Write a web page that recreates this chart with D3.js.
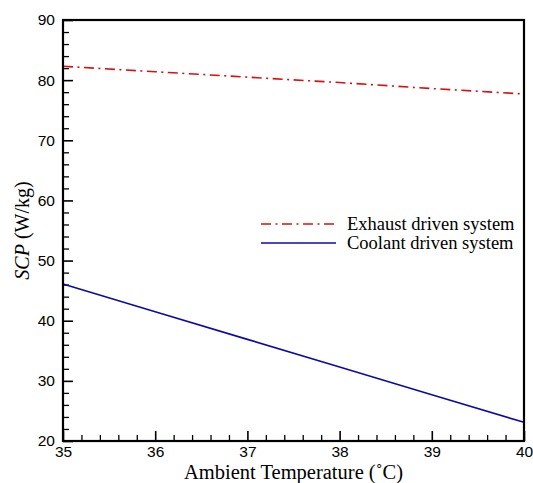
<!DOCTYPE html>
<html><head><meta charset="utf-8">
<script src="https://cdn.jsdelivr.net/npm/d3@7"></script>
<style>body{margin:0;background:#fff}</style>
</head><body>
<script>
const temps = [35, 36, 37, 38, 39, 40];
const exhaustSCP = [82.3, 81.4, 80.5, 79.6, 78.6, 77.7];
const coolantSCP = [46.1, 41.5, 36.9, 32.3, 27.7, 23.1];
const xTicks = [35, 36, 37, 38, 39, 40];
const yTicks = [20, 30, 40, 50, 60, 70, 80, 90];
const seriesNames = ["Exhaust driven system", "Coolant driven system"];

const W = 533, H = 483;
const L = 63, R = 524, T = 20, B = 441;
const svg = d3.select("body").append("svg").attr("width", W).attr("height", H);
const x = d3.scaleLinear().domain([35, 40]).range([L, R]);
const y = d3.scaleLinear().domain([20, 90]).range([B, T]);

const tickFont = "'Liberation Sans', Arial, sans-serif";
const serif = "'Liberation Serif', 'Times New Roman', serif";

// minor ticks
const yMinor = d3.range(20, 90.01, 2).filter(v => v % 10 !== 0);
const xMinor = d3.range(35, 40.001, 0.2).filter(v => Math.abs(v - Math.round(v)) > 1e-6);
svg.append("g").attr("transform", `translate(${L},0)`)
  .call(d3.axisLeft(y).tickValues(yMinor).tickSize(-6).tickFormat(""))
  .call(g => g.select(".domain").remove())
  .selectAll("line").attr("stroke", "#000").attr("stroke-width", 1.3);
svg.append("g").attr("transform", `translate(0,${B})`)
  .call(d3.axisBottom(x).tickValues(xMinor).tickSize(-6).tickFormat(""))
  .call(g => g.select(".domain").remove())
  .selectAll("line").attr("stroke", "#000").attr("stroke-width", 1.3);

// major ticks
const gy = svg.append("g").attr("transform", `translate(${L},0)`)
  .call(d3.axisLeft(y).tickValues(yTicks).tickSize(-10).tickPadding(8).tickFormat(d3.format("d")));
gy.select(".domain").remove();
gy.selectAll("line").attr("stroke", "#000").attr("stroke-width", 1.6);
gy.selectAll("text").attr("font-family", tickFont).attr("font-size", 15.5).attr("fill", "#000");

const gx = svg.append("g").attr("transform", `translate(0,${B})`)
  .call(d3.axisBottom(x).tickValues(xTicks).tickSize(-10).tickPadding(5).tickFormat(d3.format("d")));
gx.select(".domain").remove();
gx.selectAll("line").attr("stroke", "#000").attr("stroke-width", 1.6);
gx.selectAll("text").attr("font-family", tickFont).attr("font-size", 15.5).attr("fill", "#000");

// lines
const line = d3.line().x((d, i) => x(temps[i])).y(d => y(d));
svg.append("path").datum(coolantSCP).attr("d", line)
  .attr("fill", "none").attr("stroke", "#0a0aa8").attr("stroke-width", 1.6);
svg.append("path").datum(exhaustSCP).attr("d", line)
  .attr("fill", "none").attr("stroke", "#d81010").attr("stroke-width", 1.6)
  .attr("stroke-dasharray", "10,4.5,2,4.5");

// frame
svg.append("rect").attr("x", L).attr("y", T).attr("width", R - L).attr("height", B - T)
  .attr("fill", "none").attr("stroke", "#000").attr("stroke-width", 2.2);

// legend
const leg = svg.append("g");
const legY = [224, 243];
leg.append("line").attr("x1", 261).attr("x2", 336).attr("y1", legY[0]).attr("y2", legY[0])
  .attr("stroke", "#d81010").attr("stroke-width", 1.6).attr("stroke-dasharray", "10,4.5,2,4.5");
leg.append("line").attr("x1", 261).attr("x2", 336).attr("y1", legY[1]).attr("y2", legY[1])
  .attr("stroke", "#0a0aa8").attr("stroke-width", 1.6);
seriesNames.forEach((n, i) => {
  leg.append("text").attr("x", 347).attr("y", legY[i] + 6).text(n)
    .attr("font-family", serif).attr("font-size", 18.5).attr("fill", "#000");
});

// axis titles
svg.append("text").attr("x", (L + R) / 2).attr("y", 479).attr("text-anchor", "middle")
  .attr("font-family", serif).attr("font-size", 20.5).attr("fill", "#000")
  .text("Ambient Temperature (˚C)");
const yt = svg.append("text").attr("transform", `translate(29,${(T + B) / 2}) rotate(-90)`)
  .attr("text-anchor", "middle").attr("font-family", serif).attr("font-size", 20).attr("fill", "#000");
yt.append("tspan").attr("font-style", "italic").text("SCP");
yt.append("tspan").text(" (W/kg)");
</script>
</body></html>
